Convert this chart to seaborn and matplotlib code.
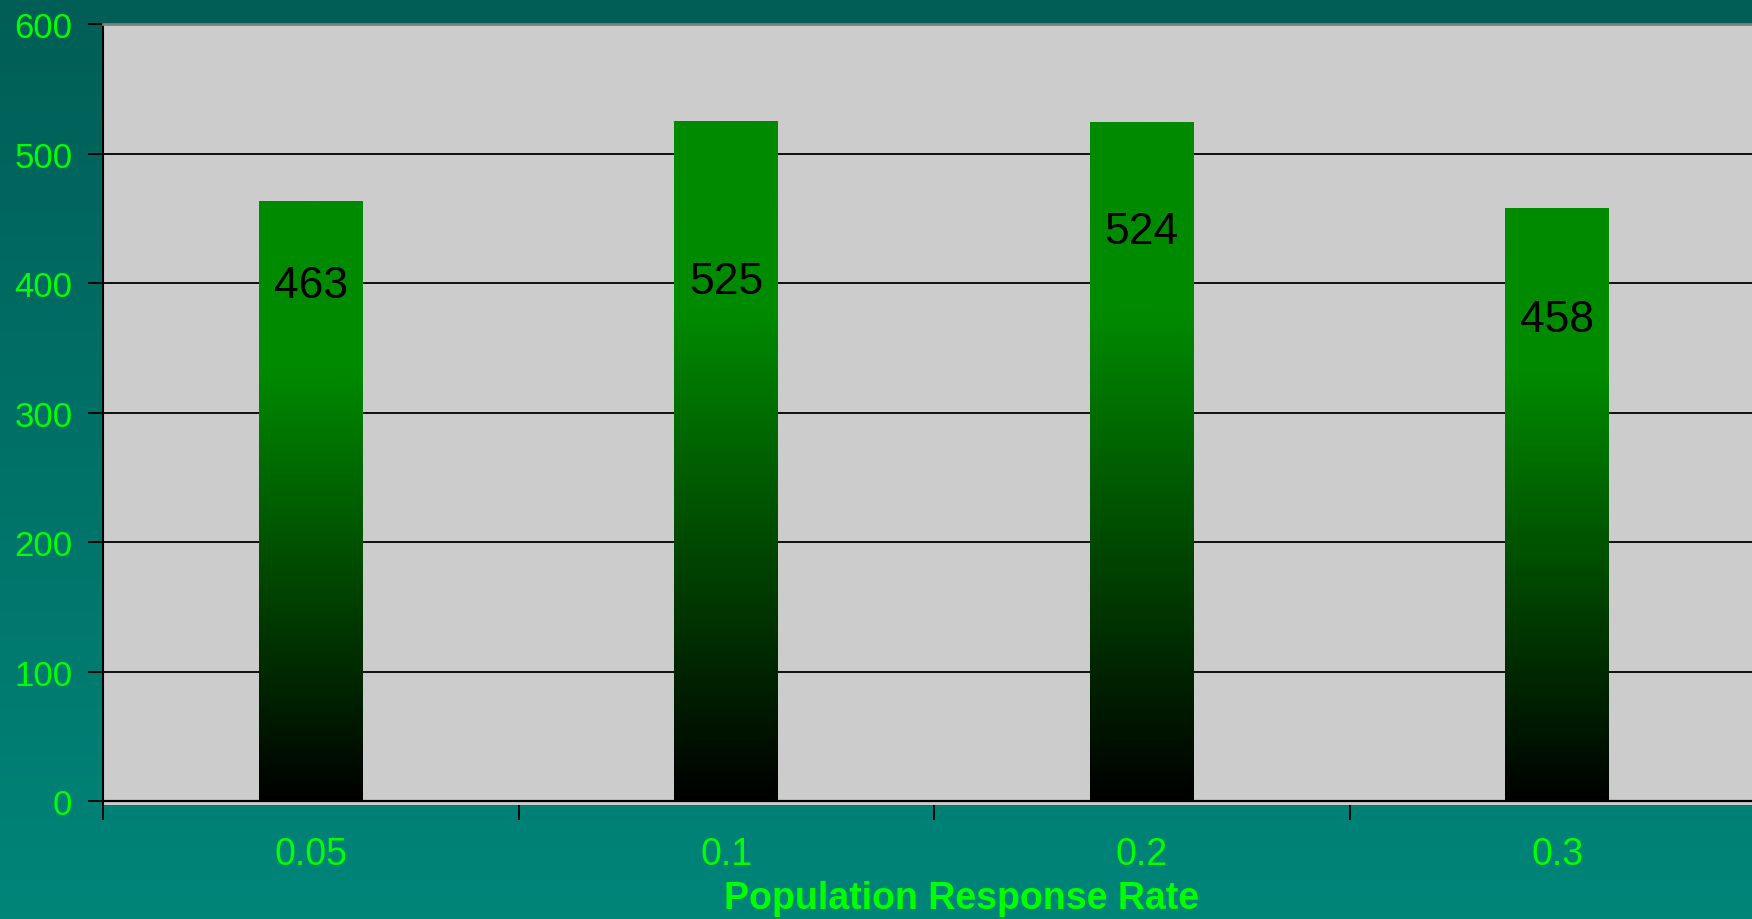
import numpy as np
import matplotlib
matplotlib.use("Agg")
import matplotlib.pyplot as plt
from matplotlib.colors import LinearSegmentedColormap
import seaborn as sns
import pandas as pd

categories = ["0.05", "0.1", "0.2", "0.3"]
values = [463, 525, 524, 458]
value_labels = ["463", "525", "524", "458"]
label_heights = [398, 401, 440, 372]
yticks = [0, 100, 200, 300, 400, 500, 600]
xlabel = "Population Response Rate"

plt.rcParams['font.family'] = ['Liberation Sans', 'DejaVu Sans']

W, H = 1752, 920
fig = plt.figure(figsize=(W / 100, H / 100), dpi=100)

# background gradient
bg = fig.add_axes([0, 0, 1, 1], zorder=-10)
bg_cmap = LinearSegmentedColormap.from_list("bg", ["#005E56", "#008579"])
grad = np.linspace(0, 1, 256).reshape(-1, 1)
bg.imshow(grad, cmap=bg_cmap, aspect="auto", extent=[0, 1, 0, 1], origin="upper")
bg.set_axis_off()

left, right = 103, 1765
top, bottom = 25, 806
ax = fig.add_axes([left / W, 1 - bottom / H, (right - left) / W, (bottom - top) / H])
ax.set_facecolor("#CCCCCC")

df = pd.DataFrame({"rate": categories, "count": values})
sns.barplot(data=df, x="rate", y="count", ax=ax, width=0.25, color="#008A00",
            saturation=1, zorder=3)

ax.set_xlim(-0.5, len(categories) - 0.5)
ax.set_ylim(-3, 600)

# gradient fill in bars (black at bottom -> green in upper part)
bar_cmap = LinearSegmentedColormap.from_list(
    "bar", [(0.0, "#000000"), (0.72, "#008A00"), (1.0, "#008A00")])
for p in list(ax.patches):
    x0, w, h = p.get_x(), p.get_width(), p.get_height()
    im = ax.imshow(grad, cmap=bar_cmap, aspect="auto",
                   extent=[x0, x0 + w, 0, h], origin="lower", zorder=3)
    im.set_clip_path(p)
    p.set_facecolor("none")
    p.set_edgecolor("none")
ax.set_xlim(-0.5, len(categories) - 0.5)
ax.set_ylim(-3, 600)

# grid
for yv in yticks[1:-1]:
    ax.axhline(yv, color="black", lw=1.3, zorder=1)
ax.axhline(0, color="black", lw=1.6, zorder=4)

# value labels
for i, (lab, hy) in enumerate(zip(value_labels, label_heights)):
    ax.text(i, hy, lab, ha="center", va="center", fontsize=32, color="black", zorder=5)

# spines
ax.spines["right"].set_visible(False)
ax.spines["bottom"].set_visible(False)
ax.spines["top"].set_color("#7F7F7F")
ax.spines["top"].set_linewidth(2)
ax.spines["left"].set_color("black")
ax.spines["left"].set_linewidth(1.5)

ax.set_yticks(yticks)
ax.set_yticklabels([str(v) for v in yticks])
ax.tick_params(axis="y", colors="black", labelcolor="#00FF00", labelsize=25,
               length=11, width=1.3, direction="out", pad=11)

ax.set_xticks(range(len(categories)))
ax.set_xticklabels(categories)
ax.set_xticks([i - 0.5 for i in range(len(categories))], minor=True)
ax.tick_params(axis="x", which="major", length=0, labelcolor="#00FF00",
               labelsize=27, pad=22)
ax.tick_params(axis="x", which="minor", length=11, width=1.3, color="black",
               direction="out")

ax.set_xlabel(xlabel, fontsize=27, fontweight="bold", color="#00FF00")
ax.set_ylabel("")
ax.xaxis.set_label_coords((962 - left) / (right - left), -(899 - bottom) / (bottom - top))
ax.xaxis.label.set_va("center")

fig.savefig("out.png", dpi=100)
